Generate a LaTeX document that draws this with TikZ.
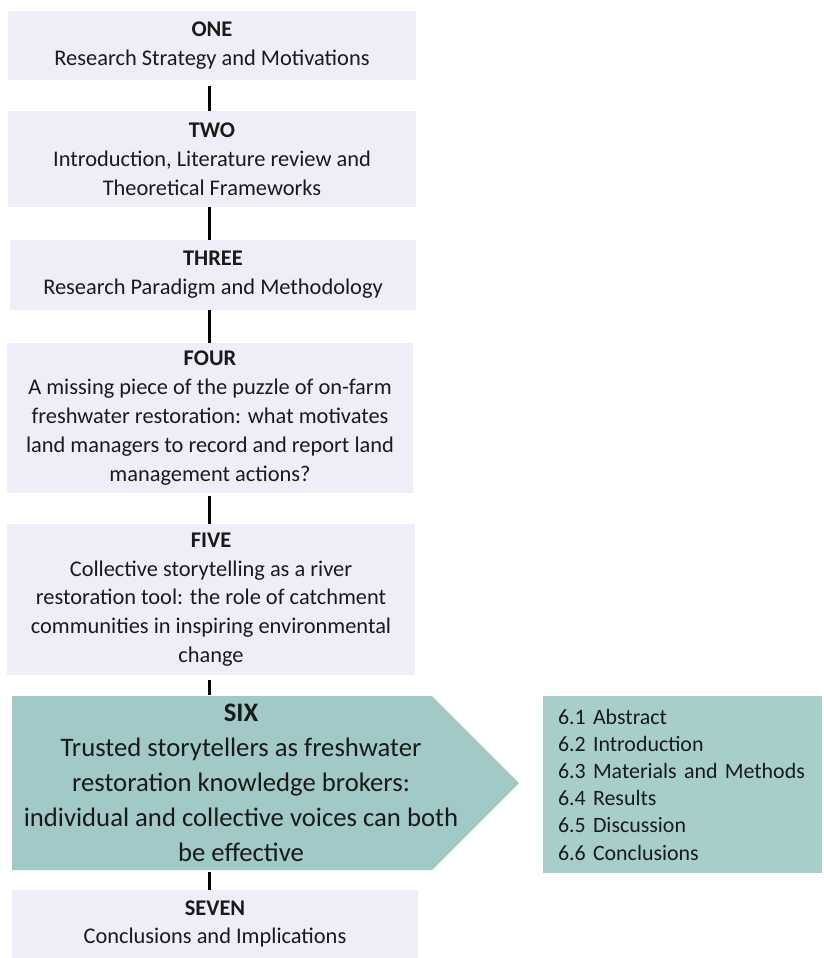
\documentclass[tikz,border=0pt]{standalone}
\usepackage{fontspec}
\setmainfont{Carlito}
\usetikzlibrary{calc}
\definecolor{paleblue}{HTML}{EEEEF8}
\definecolor{tealfill}{HTML}{A0C9C7}
\definecolor{tealsoft}{HTML}{A8CECC}
\definecolor{inkc}{HTML}{1A1A1A}
\begin{document}
\begin{tikzpicture}[x=1pt,y=-1pt,
  chapter/.style={fill=paleblue, inner sep=0pt, align=center, text=inkc,
    font=\fontsize{22.4}{28.8}\selectfont},
  link/.style={draw=black, line width=3pt},
  tealtext/.style={inner sep=0pt, align=center, text=inkc,
    font=\fontsize{26.7}{35}\selectfont},
  listbox/.style={fill=tealsoft, inner ysep=0pt, inner xsep=15pt, text=inkc, align=left,
    font=\fontsize{21.9}{27.2}\selectfont}]
\useasboundingbox (0,0) rectangle (824,958);
\fill[white] (0,0) rectangle (824,958);

% chapter boxes
\node[chapter, minimum width=408pt, minimum height=69pt] (one) at (212,45.5)
  {\textbf{ONE}\\Research Strategy and Motivations};
\node[chapter, minimum width=408pt, minimum height=96pt] (two) at (212,159)
  {\textbf{TWO}\\Introduction, Literature review and\\Theoretical Frameworks};
\node[chapter, minimum width=406pt, minimum height=70pt] (three) at (213,275)
  {\textbf{THREE}\\Research Paradigm and Methodology};
\node[chapter, minimum width=406pt, minimum height=150pt] (four) at (210,418)
  {\textbf{FOUR}\\A missing piece of the puzzle of on-farm\\freshwater restoration: what motivates\\land managers to record and report land\\management actions?};
\node[chapter, minimum width=408pt, minimum height=151pt] (five) at (211,599.5)
  {\textbf{FIVE}\\Collective storytelling as a river\\restoration tool: the role of catchment\\communities in inspiring environmental\\change};

% chapter six: arrow-shaped panel
\fill[tealfill] (12,696) -- (432,696) -- (519,783) -- (432,870) -- (12,870) -- cycle;
\node[tealtext, minimum width=420pt, minimum height=174pt] (six) at (222,783) {};
\node[tealtext] (sixtext) at (241,783)
  {\textbf{SIX}\\Trusted storytellers as freshwater\\restoration knowledge brokers:\\individual and collective voices can both\\be effective};

\node[chapter, minimum width=406pt, minimum height=68pt] (seven) at (215,924)
  {\textbf{SEVEN}\\Conclusions and Implications};

% section list of chapter six
\node[listbox, minimum width=279pt, minimum height=177pt, text width=249pt] (sections) at (682.5,784.5)
  {6.1 Abstract\\6.2 Introduction\\6.3 Materials and Methods\\6.4 Results\\6.5 Discussion\\6.6 Conclusions};

% connectors
\coordinate (spine) at (209,0);
\draw[link] ($(one.south -| spine)+(0,6)$) -- (two.north -| spine);
\draw[link] (two.south -| spine) -- (three.north -| spine);
\draw[link] (three.south -| spine) -- (four.north -| spine);
\draw[link] ($(four.south -| spine)+(0,3)$) -- (five.north -| spine);
\draw[link] ($(five.south -| spine)+(0,5)$) -- ($(six.north -| spine)+(0,-1)$);
\draw[link] ($(six.south -| spine)+(0,2)$) -- (seven.north -| spine);
\end{tikzpicture}
\end{document}
